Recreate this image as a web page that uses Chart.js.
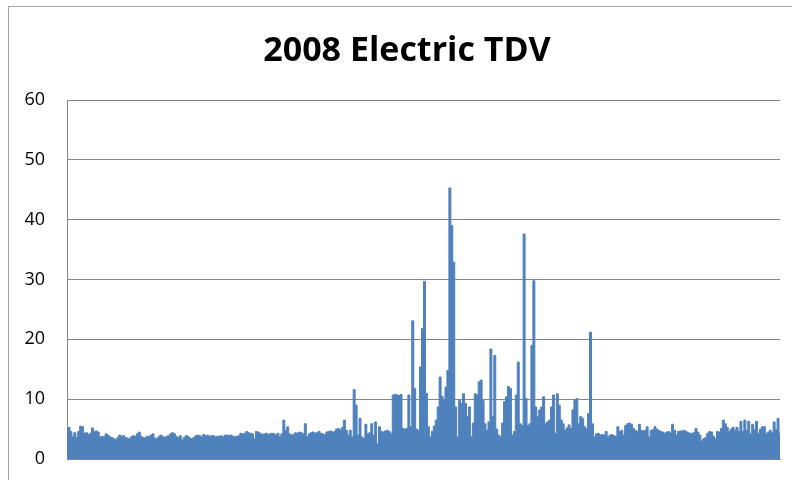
<!DOCTYPE html>
<html>
<head>
<meta charset="utf-8">
<title>2008 Electric TDV</title>
<script src="https://cdn.jsdelivr.net/npm/chart.js@4.4.1/dist/chart.umd.min.js"></script>
<style>
  html, body { margin: 0; padding: 0; background: #ffffff; }
  #wrap { position: relative; width: 792px; height: 480px; }
</style>
</head>
<body>
<div id="wrap"><canvas id="tdv" width="792" height="480"></canvas></div>
<script>
// Daily peak electric TDV values for 2008, one array per month
const jan = [4.3, 5.3, 4.6, 3.7, 4.4, 3.6, 4.6, 5.5, 5.4, 4.3, 4.4, 4.1, 4.3, 5.2, 4.6, 4.7, 4.5, 3.7, 3.8, 3.7,
             4.2, 4.0, 3.7, 3.6, 3.4, 3.2, 3.6, 4.0, 3.8, 3.9, 3.6];
const feb = [3.5, 3.4, 3.7, 3.9, 3.8, 4.2, 4.5, 3.8, 3.6, 3.5, 3.8, 3.7, 4.0, 4.2, 3.5, 3.4, 3.7, 4.0, 3.8, 3.6,
             3.8, 3.9, 4.2, 4.4, 4.2, 3.8, 3.6, 3.9, 3.2];
const mar = [3.6, 3.9, 3.8, 3.5, 3.4, 3.6, 3.9, 4.0, 3.9, 3.7, 4.1, 3.9, 4.0, 3.8, 3.9, 3.9, 3.7, 3.8, 3.8, 3.9,
             3.7, 4.0, 4.0, 3.9, 4.0, 3.8, 3.7, 3.8, 3.9, 4.3, 4.2];
const apr = [4.3, 4.6, 4.4, 4.3, 4.2, 3.4, 4.6, 4.5, 4.3, 4.1, 4.2, 4.3, 4.1, 4.2, 4.3, 4.2, 4.0, 4.3, 3.7, 4.2,
             6.5, 4.8, 5.4, 4.2, 4.0, 4.1, 4.4, 4.3, 4.5, 4.4];
const may = [4.2, 5.9, 3.7, 4.2, 4.4, 4.5, 4.3, 4.4, 4.6, 4.3, 4.2, 4.0, 4.5, 4.6, 4.7, 4.5, 4.6, 5.0, 5.1, 4.9,
             5.3, 6.5, 4.8, 4.0, 4.8, 3.7, 11.6, 9.0, 4.0, 6.8, 3.7];
const jun = [3.4, 5.8, 4.2, 4.4, 5.9, 4.0, 6.2, 2.6, 5.4, 4.6, 4.5, 4.7, 4.8, 4.6, 4.3, 10.7, 10.8, 10.7, 10.6, 10.8,
             5.1, 5.0, 5.1, 10.7, 5.4, 23.1, 11.8, 5.0, 4.8, 15.4];
const jul = [21.8, 29.7, 11.0, 5.4, 3.7, 4.6, 5.5, 6.5, 8.7, 13.7, 10.5, 9.8, 12.0, 14.8, 45.3, 39.0, 32.9, 8.7, 3.7, 9.8,
             9.3, 10.9, 9.3, 7.1, 8.7, 3.7, 6.0, 10.9, 10.7, 12.9, 13.2];
const aug = [9.8, 5.9, 4.8, 6.2, 18.4, 7.1, 17.3, 5.0, 4.0, 3.7, 6.0, 9.6, 10.4, 12.1, 11.8, 4.0, 4.6, 10.7, 16.2, 5.9,
             5.6, 37.6, 10.1, 5.6, 5.9, 19.0, 29.8, 8.7, 7.1, 8.2, 8.7];
const sep = [10.4, 5.9, 6.2, 6.5, 8.7, 10.7, 4.3, 10.9, 9.0, 6.5, 5.9, 4.8, 5.2, 5.7, 5.1, 8.2, 9.8, 10.1, 5.9, 7.1,
             6.8, 5.4, 5.1, 7.6, 21.2, 5.9, 3.7, 4.2, 4.3, 4.0];
const oct = [4.1, 4.0, 4.6, 3.7, 4.0, 4.1, 3.9, 3.8, 5.4, 4.6, 4.8, 4.0, 5.6, 5.9, 6.0, 5.8, 5.1, 4.8, 4.6, 5.8,
             4.8, 4.7, 4.8, 5.4, 3.7, 4.8, 4.9, 5.4, 5.0, 4.8, 4.6];
const nov = [4.5, 4.3, 4.5, 4.6, 4.4, 5.8, 4.8, 4.0, 4.6, 4.7, 4.7, 4.8, 4.6, 4.4, 4.3, 4.3, 4.4, 5.1, 4.5, 4.0,
             3.0, 3.4, 3.6, 4.3, 4.6, 4.5, 3.8, 3.4, 4.6, 4.5];
const dec = [5.1, 6.5, 5.9, 5.3, 4.6, 5.0, 5.3, 4.8, 5.3, 4.6, 6.3, 4.6, 6.5, 4.8, 6.3, 4.2, 5.8, 4.9, 6.3, 4.3,
             5.0, 5.4, 5.4, 4.2, 4.5, 4.8, 4.4, 6.2, 4.9, 6.8, 4.3];

// Y axis tick values
const yTicks = [0, 10, 20, 30, 40, 50, 60];

const chartTitle = '2008 Electric TDV';

const tdvValues = [].concat(jan, feb, mar, apr, may, jun, jul, aug, sep, oct, nov, dec);

// One category per day of 2008
const dayLabels = tdvValues.map((_, i) => {
  const d = new Date(Date.UTC(2008, 0, 1 + i));
  return d.toISOString().slice(0, 10);
});

const GRID = '#868686';
const BLUE = '#4F81BD';

// Outer frame and the heading, centred over the plot and its labels
const chartDecor = {
  id: 'chartDecor',
  afterDraw(chart) {
    const ctx = chart.ctx;
    ctx.save();
    ctx.strokeStyle = '#a6a6a6';
    ctx.lineWidth = 1;
    ctx.strokeRect(8.5, 6.5, 800, 500);
    ctx.fillStyle = '#000000';
    ctx.font = 'bold 34px "Open Sans", sans-serif';
    ctx.textAlign = 'center';
    ctx.textBaseline = 'middle';
    ctx.fillText(chartTitle, (chart.chartArea.left - 33 + chart.chartArea.right) / 2, 51.4);
    ctx.restore();
  }
};

new Chart(document.getElementById('tdv'), {
  type: 'line',
  data: {
    labels: dayLabels,
    datasets: [{
      label: 'Electric TDV',
      data: tdvValues,
      fill: 'origin',
      backgroundColor: BLUE,
      borderColor: BLUE,
      borderWidth: 1,
      pointRadius: 0,
      pointHoverRadius: 0,
      stepped: 'middle'
    }]
  },
  options: {
    responsive: false,
    animation: false,
    events: [],
    layout: { padding: { left: 0, right: 12, top: 100, bottom: 21 } },
    plugins: {
      legend: { display: false },
      tooltip: { enabled: false },
      title: { display: false }
    },
    scales: {
      x: {
        type: 'category',
        offset: false,
        grid: { display: false, drawTicks: false },
        border: { display: true, color: GRID, width: 1 },
        ticks: { display: false },
        afterFit(scale) { scale.height = 0; }
      },
      y: {
        min: 0,
        max: 60,
        afterBuildTicks(scale) { scale.ticks = yTicks.map(v => ({ value: v })); },
        grid: { color: GRID, lineWidth: 1, drawTicks: true, tickLength: 22, tickColor: 'rgba(0,0,0,0)' },
        border: { display: true, color: GRID, width: 1 },
        ticks: {
          color: '#000000',
          padding: 0,
          font: { family: '"Open Sans", sans-serif', size: 18 }
        },
        afterFit(scale) { scale.width = 67; }
      }
    }
  },
  plugins: [chartDecor]
});
</script>
</body>
</html>
